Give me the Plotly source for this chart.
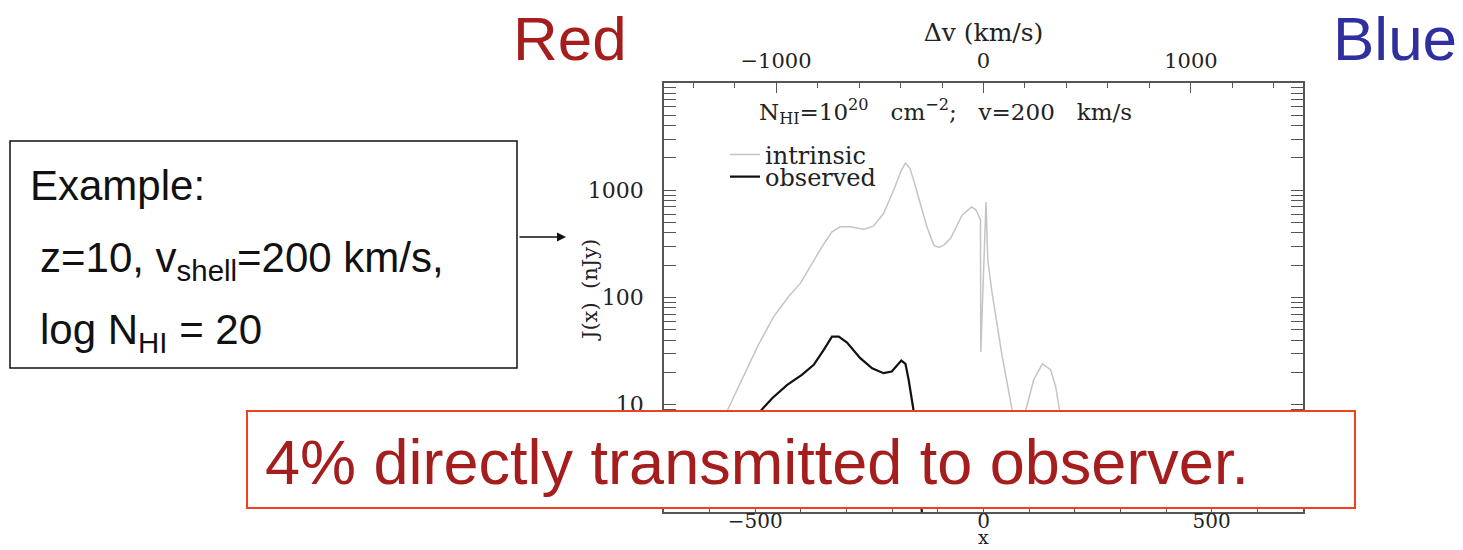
import plotly.graph_objects as go

# ---------------- data ----------------
intrinsic_x = [-640, -600, -562, -526, -493, -460, -427, -401, -379, -354, -332, -314, -292,
               -262, -241, -219, -197, -180, -171, -161, -153, -145, -138, -124, -109, -98,
               -87, -72, -47, -36, -26, -17.5, -12.5, -6.6, -6.0, 5.5, 9.4, 19, 30, 41, 52,
               63, 72, 82, 92, 110, 129, 147, 158, 167, 180, 200]
intrinsic_y = [1.5, 3.5, 8.7, 18.3, 36.3, 66, 102, 136, 194, 297, 410, 456, 456,
               434, 462, 607, 1000, 1535, 1795, 1590, 1239, 932, 752, 456, 308, 293,
               308, 356, 585, 641, 700, 661, 607, 526, 31, 778, 223, 109, 53.5, 28.1, 15.9,
               8.7, 4.5, 4, 8.7, 17.1, 24, 21.2, 14.8, 8.7, 3, 1]

observed_x = [-560, -520, -489, -463, -430, -398, -372, -350, -332, -317, -299, -270, -244,
              -219, -201, -180, -171, -164, -153, -145, -135]
observed_y = [1.5, 4, 8.7, 11.5, 15.3, 19.0, 23.6, 32.5, 43.2, 43.2, 38.0, 27.2, 21.9,
              19.7, 20.4, 25.8, 24.1, 17.1, 8.7, 3, 1]

x_ticks = [-500, 0, 500]
dv_ticks = [-1000, 0, 1000]
y_ticks = [10, 100, 1000]

# ---------------- layout helpers ----------------
W, H = 1463, 550
L, R, T, B = 664, 1303, 83, 512


def px(xp):
    return (xp - L) / (R - L)


def py(yp):
    return (B - yp) / (B - T)


SERIF = "DejaVu Serif"
SANS = "Liberation Sans"
DARKRED = "#a51d1d"
BLUE = "#2f2f9f"
FRAME = "#555555"
NB = "\u00a0"
GAP = NB * 3

fig = go.Figure()
fig.add_trace(go.Scatter(x=intrinsic_x, y=intrinsic_y, mode="lines", name="intrinsic",
                         line=dict(color="#c4c4c4", width=1.5), legend="legend"))
fig.add_trace(go.Scatter(x=observed_x, y=observed_y, mode="lines", name="observed",
                         line=dict(color="#111111", width=2.2), legend="legend2"))
# carrier for the top (velocity) axis
fig.add_trace(go.Scatter(x=dv_ticks, y=[None] * len(dv_ticks), xaxis="x2", mode="lines",
                         showlegend=False, hoverinfo="skip"))

minor_y = [m * 10 ** e for e in range(0, 4) for m in range(2, 10)]

legend_style = dict(xanchor="left", yanchor="middle", bgcolor="rgba(0,0,0,0)",
                    font=dict(family=SERIF, size=24, color="#222"), itemwidth=30)

fig.update_layout(
    width=W, height=H,
    margin=dict(l=L, r=W - R, t=T, b=H - B, pad=0, autoexpand=False),
    paper_bgcolor="white", plot_bgcolor="white",
    font=dict(family=SERIF, size=21, color="#222"),
    showlegend=True,
    legend=dict(x=px(725), y=py(155), **legend_style),
    legend2=dict(x=px(725), y=py(177), **legend_style),
    xaxis=dict(range=[-700, 700], tickvals=x_ticks, ticks="inside", ticklen=10,
               tickcolor=FRAME, showline=True, linecolor=FRAME, linewidth=1.5,
               showgrid=False, zeroline=False, automargin=False,
               minor=dict(dtick=100, ticks="inside", ticklen=5, tickcolor=FRAME),
               tickfont=dict(size=20), ticklabelstandoff=-10),
    xaxis2=dict(range=[-1540, 1540], overlaying="x", side="top", anchor="y",
                tickvals=dv_ticks, ticks="inside", ticklen=10, tickcolor=FRAME,
                showline=True, linecolor=FRAME, linewidth=1.5, showgrid=False,
                zeroline=False, automargin=True, ticklabelstandoff=5,
                minor=dict(dtick=200, ticks="inside", ticklen=5, tickcolor=FRAME),
                title=dict(text="Δv (km/s)", standoff=0)),
    yaxis=dict(type="log", range=[0, 4], tickvals=y_ticks, ticktext=[str(v) for v in y_ticks],
               ticks="inside", ticklen=12, tickcolor=FRAME, mirror="allticks",
               showline=True, linecolor=FRAME, linewidth=1.5, showgrid=False,
               zeroline=False, ticklabelstandoff=14, automargin=False,
               tickfont=dict(size=22),
               minor=dict(tickmode="array", tickvals=minor_y, ticks="inside", ticklen=6,
                          tickcolor=FRAME)),
)

# axis titles placed where the reference has them
fig.add_annotation(x=px(590), y=py(290), xref="paper", yref="paper", showarrow=False,
                   xanchor="center", yanchor="middle", textangle=-90,
                   text="J(x)" + NB + NB + "(nJy)",
                   font=dict(family=SERIF, size=21, color="#222"))
fig.add_annotation(x=px(983), y=py(549), xref="paper", yref="paper", showarrow=False,
                   xanchor="center", yanchor="bottom", text="x", borderpad=0,
                   font=dict(family=SERIF, size=19, color="#222"))

# Annotation inside the plot
fig.add_annotation(x=px(945), y=py(111), xref="paper", yref="paper", showarrow=False,
                   xanchor="center", yanchor="middle",
                   text="N<sub>HI</sub>=10<sup>20</sup>" + GAP + "cm<sup>−2</sup>;"
                        + GAP + "v=200" + GAP + "km/s",
                   font=dict(family=SERIF, size=23, color="#222"))

# Slide decorations
fig.add_annotation(x=px(570), y=py(38), xref="paper", yref="paper", showarrow=False,
                   xanchor="center", yanchor="middle",
                   text="Red", font=dict(family=SANS, size=62, color=DARKRED))
fig.add_annotation(x=px(1395), y=py(38), xref="paper", yref="paper", showarrow=False,
                   xanchor="center", yanchor="middle",
                   text="Blue", font=dict(family=SANS, size=62, color=BLUE))

fig.add_shape(type="rect", xref="paper", yref="paper", x0=px(10), x1=px(517),
              y0=py(368), y1=py(141), line=dict(color="#111", width=1.5),
              fillcolor="white", layer="above")
fig.add_annotation(x=px(28), y=py(185), xref="paper", yref="paper", showarrow=False,
                   xanchor="left", yanchor="middle", text="Example:",
                   font=dict(family=SANS, size=42, color="#111"))
fig.add_annotation(x=px(38), y=py(260), xref="paper", yref="paper", showarrow=False,
                   xanchor="left", yanchor="middle", text="z=10, v<sub>shell</sub>=200 km/s,",
                   font=dict(family=SANS, size=42, color="#111"))
fig.add_annotation(x=px(38), y=py(332), xref="paper", yref="paper", showarrow=False,
                   xanchor="left", yanchor="middle", text="log N<sub>HI</sub> = 20",
                   font=dict(family=SANS, size=42, color="#111"))

fig.add_annotation(x=px(566), y=py(237), xref="paper", yref="paper", ax=-48, ay=0,
                   showarrow=True, arrowhead=2, arrowsize=1.2, arrowwidth=1.5,
                   arrowcolor="#111", text="")

fig.add_shape(type="rect", xref="paper", yref="paper", x0=px(247), x1=px(1355),
              y0=py(508), y1=py(411), line=dict(color="#f0401e", width=2),
              fillcolor="white", layer="above")
fig.add_annotation(x=px(263), y=py(462), xref="paper", yref="paper", showarrow=False,
                   xanchor="left", yanchor="middle", text="4% directly transmitted to observer.",
                   font=dict(family=SANS, size=63, color=DARKRED))

fig.write_html("out.html")
